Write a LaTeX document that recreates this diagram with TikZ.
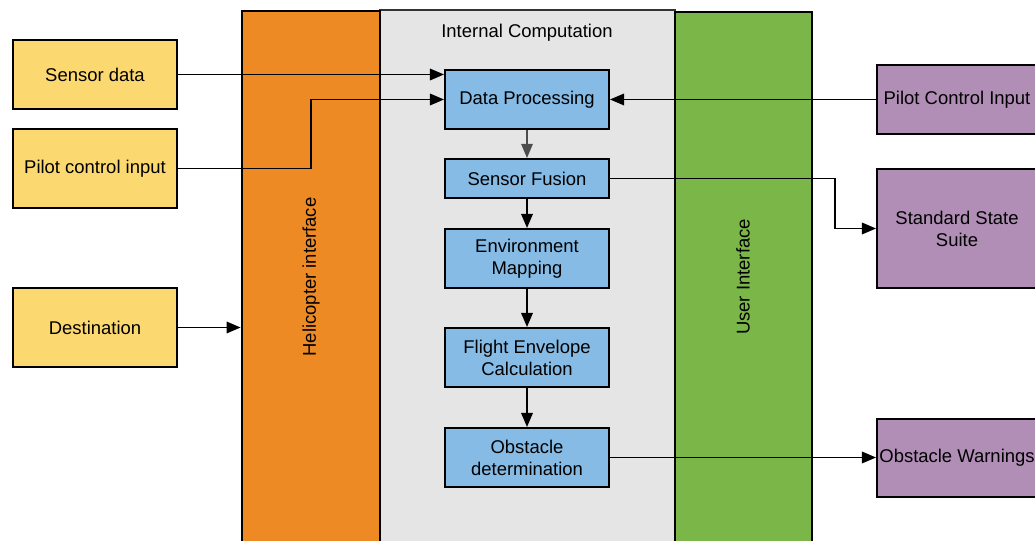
\documentclass[tikz,border=0pt]{standalone}
\usepackage{fontspec}
\setmainfont{Liberation Sans}
\usepackage{tikz}
\usetikzlibrary{arrows.meta}
\usepackage{xcolor}
\definecolor{inyellow}{HTML}{FCD970}
\definecolor{heliorange}{HTML}{EE8A24}
\definecolor{compgray}{HTML}{E5E5E5}
\definecolor{uigreen}{HTML}{7AB648}
\definecolor{stepblue}{HTML}{86BBE5}
\definecolor{outpurple}{HTML}{B18EB6}

\begin{document}
\begin{tikzpicture}[x=0.2mm,y=-0.2mm,>={Triangle[length=8pt,width=6.5pt]},
  font=\fontsize{10.5}{12.5}\selectfont,line width=1.1pt,
  inbox/.style={draw,fill=inyellow,inner sep=0pt,minimum width=32.8mm},
  column/.style={draw,inner sep=0pt},
  stepbox/.style={draw,fill=stepblue,inner sep=0pt,align=center,minimum width=32.8mm},
  outbox/.style={draw,fill=outpurple,inner sep=0pt,align=center,minimum width=32mm}]
\useasboundingbox (0,0) rectangle (1035,541);
\clip (0,0) rectangle (1035,541);
% columns
\node[column,fill=compgray,draw=black!80,minimum width=59mm,minimum height=110mm] (comp) at (527.5,285) {};
\node[column,fill=heliorange,minimum width=27.6mm,minimum height=109.8mm,line width=1.5pt] (heli) at (311,285.5) {};
\node[column,fill=uigreen,minimum width=27.4mm,minimum height=109.6mm] (ui) at (743.5,286) {};
\node at (527,33) {Internal Computation};
\node[rotate=90] at (311,277) {Helicopter interface};
\node[rotate=90] at (743,277) {User Interface};
% inputs
\node[inbox,minimum height=13.8mm] (sensor) at (95,74.5) {Sensor data};
\node[inbox,minimum height=15.8mm] (pilotin) at (95,168.5) {Pilot control input};
\node[inbox,minimum height=15.8mm] (dest) at (95,327.5) {Destination};
% processing chain
\node[stepbox,minimum height=11.8mm] (proc) at (527,99.5) {Data Processing};
\node[stepbox,minimum height=7.8mm] (fusion) at (527,178.5) {Sensor Fusion};
\node[stepbox,minimum height=11.8mm] (envmap) at (527,258.5) {Environment\\Mapping};
\node[stepbox,minimum height=11.8mm] (flight) at (527,357.5) {Flight Envelope\\Calculation};
\node[stepbox,minimum height=11.8mm] (obst) at (527,457.5) {Obstacle\\determination};
% outputs
\node[outbox,minimum height=13.8mm] (pilotctl) at (957,99.5) {Pilot Control Input};
\node[outbox,minimum height=23.8mm] (suite) at (957,228.5) {Standard State\\Suite};
\node[outbox,minimum height=15.6mm] (warn) at (957,458) {Obstacle Warnings};
\coordinate (bend) at (835,0);

\draw[->] (sensor.east) -- (sensor.east -| proc.west);
\draw[->] (pilotin.east) -- (heli.center |- pilotin.east) |- (proc.west);
\draw[->] (dest.east) -- (dest.east -| heli.west);
\draw[->] (pilotctl.west) -- (proc.east);
\draw[->,black!70,line width=0.8pt] (proc.south) -- (fusion.north);
\draw[->] (fusion.south) -- (envmap.north);
\draw[->] (envmap.south) -- (flight.north);
\draw[->] (flight.south) -- (obst.north);
\draw[->] (fusion.east) -- (fusion.east -| bend) |- (suite.west);
\draw[->] (obst.east) -- (obst.east -| warn.west);
\end{tikzpicture}
\end{document}
